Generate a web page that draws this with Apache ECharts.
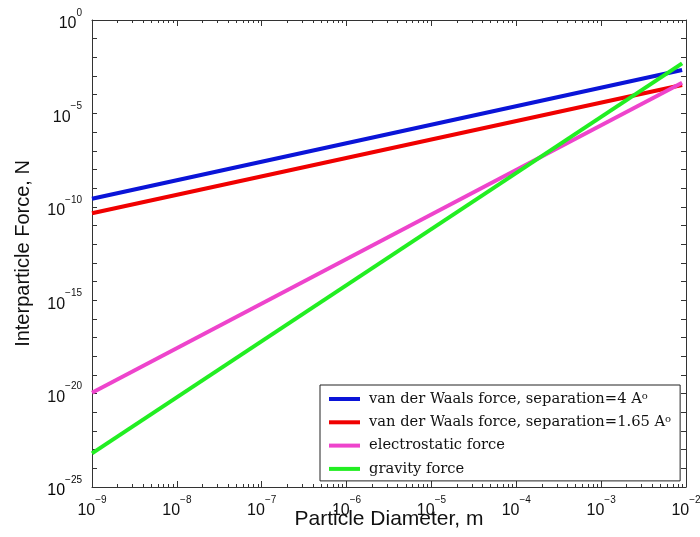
<!DOCTYPE html>
<html>
<head>
<meta charset="utf-8">
<script src="https://cdn.jsdelivr.net/npm/echarts@6/dist/echarts.min.js"></script>
<style>
  html, body { margin: 0; padding: 0; background: #fff; }
  #chart { width: 700px; height: 537px; }
</style>
</head>
<body>
<div id="chart"></div>
<script>
// particle diameters (m) at the two ends of each line
const diameters = [1e-9, 9e-3];
// forces (N)
const vdw4 = [2.7e-10, 2.1e-3];
const vdw165 = [4.5e-11, 3.3e-4];
const electrostatic = [1.1e-20, 4.4e-4];
const gravity = [6.3e-24, 4.8e-3];

const seriesNames = [
  'van der Waals force, separation=4 A°',
  'van der Waals force, separation=1.65 A°',
  'electrostatic force',
  'gravity force'
];
const seriesColors = ['#0a14d8', '#f00000', '#ee44cc', '#22ee22'];

const xMin = 1e-9, xMax = 1e-2;
const yMin = 1e-25, yMax = 1;

const chart = echarts.init(document.getElementById('chart'));

const pairs = (ys) => diameters.map((d, i) => [d, ys[i]]);

const expLabel = (v) => {
  const e = Math.round(Math.log10(v));
  return '{n|10}{e|' + (e < 0 ? '\u2212' + (-e) : e) + '}';
};

const labelRich = {
  n: { fontSize: 16, lineHeight: 24, verticalAlign: 'bottom', fontFamily: 'Liberation Sans', color: '#111' },
  e: { fontSize: 10, lineHeight: 8, verticalAlign: 'top', fontFamily: 'Liberation Sans', color: '#111' }
};

const axisLineStyle = { color: '#333', width: 1 };

const xBase = {
  type: 'log',
  logBase: 10,
  min: xMin,
  max: xMax,
  interval: 1,
  splitNumber: 7,
  axisLine: { show: true, onZero: false, lineStyle: axisLineStyle },
  axisTick: { show: true, inside: true, length: 6, lineStyle: axisLineStyle },
  minorTick: { show: true, splitNumber: 9, length: 3, lineStyle: axisLineStyle },
  splitLine: { show: false },
  minorSplitLine: { show: false }
};

const yBase = {
  type: 'log',
  logBase: 10,
  min: yMin,
  max: yMax,
  interval: 1,
  splitNumber: 25,
  axisLine: { show: true, onZero: false, lineStyle: axisLineStyle },
  axisTick: { show: true, inside: true, length: 5, lineStyle: axisLineStyle },
  splitLine: { show: false }
};

const option = {
  animation: false,
  backgroundColor: '#fff',
  grid: { left: 92, right: 14, top: 20, bottom: 50, containLabel: false, outerBoundsMode: 'none' },
  legend: {
    left: 320,
    top: 385,
    orient: 'vertical',
    selectedMode: false,
    icon: 'rect',
    itemWidth: 31,
    itemHeight: 4,
    itemGap: 7.3,
    padding: [6, 9, 4, 9],
    borderColor: '#222',
    borderWidth: 1,
    backgroundColor: '#fff',
    data: seriesNames,
    formatter: (name) => name.replace('A°', 'A{o|o}'),
    textStyle: {
      fontFamily: 'DejaVu Serif',
      fontSize: 14.7,
      lineHeight: 16,
      color: '#111',
      padding: [0, 0, 0, 4],
      rich: {
        o: { fontFamily: 'DejaVu Serif', fontSize: 10, lineHeight: 6, verticalAlign: 'top', color: '#111' }
      }
    }
  },
  xAxis: [
    Object.assign({}, xBase, {
      position: 'bottom',
      name: 'Particle Diameter, m',
      nameLocation: 'middle',
      nameGap: 22,
      nameMoveOverlap: false,
      nameTextStyle: { fontFamily: 'Liberation Sans', fontSize: 21, color: '#111' },
      axisLabel: {
        show: true, margin: 8, hideOverlap: false,
        showMinLabel: true, showMaxLabel: true,
        formatter: expLabel, rich: labelRich
      }
    }),
    Object.assign({}, xBase, {
      position: 'top',
      axisLabel: { show: false }
    })
  ],
  yAxis: [
    Object.assign({}, yBase, {
      position: 'left',
      name: 'Interparticle Force, N',
      nameLocation: 'middle',
      nameGap: 59,
      nameMoveOverlap: false,
      nameTextStyle: { fontFamily: 'Liberation Sans', fontSize: 20, color: '#111' },
      axisLabel: {
        show: true,
        margin: 10,
        hideOverlap: false,
        showMinLabel: true,
        showMaxLabel: true,
        formatter: (v) => {
          if (!(v > 0)) return '';
          const e = Math.round(Math.log10(v));
          return e % 5 === 0 ? expLabel(v) : '';
        },
        rich: labelRich
      }
    }),
    Object.assign({}, yBase, {
      position: 'right',
      axisLabel: { show: false }
    })
  ],
  series: [vdw4, vdw165, electrostatic, gravity].map((ys, i) => ({
    name: seriesNames[i],
    type: 'line',
    xAxisIndex: 0,
    yAxisIndex: 0,
    symbol: 'none',
    showSymbol: false,
    color: seriesColors[i],
    lineStyle: { width: 4, color: seriesColors[i] },
    data: pairs(ys)
  }))
};

chart.setOption(option);

// the log scale rounds its 1e-25 end tick to 0, so that one label is placed by hand
const corner = chart.convertToPixel({ gridIndex: 0 }, [xMin, yMin]);
chart.setOption({
  graphic: [{
    type: 'text',
    z: 10,
    style: {
      x: corner[0] - 10,
      y: corner[1],
      text: expLabel(yMin),
      rich: labelRich,
      align: 'right',
      verticalAlign: 'middle'
    }
  }]
});
</script>
</body>
</html>
